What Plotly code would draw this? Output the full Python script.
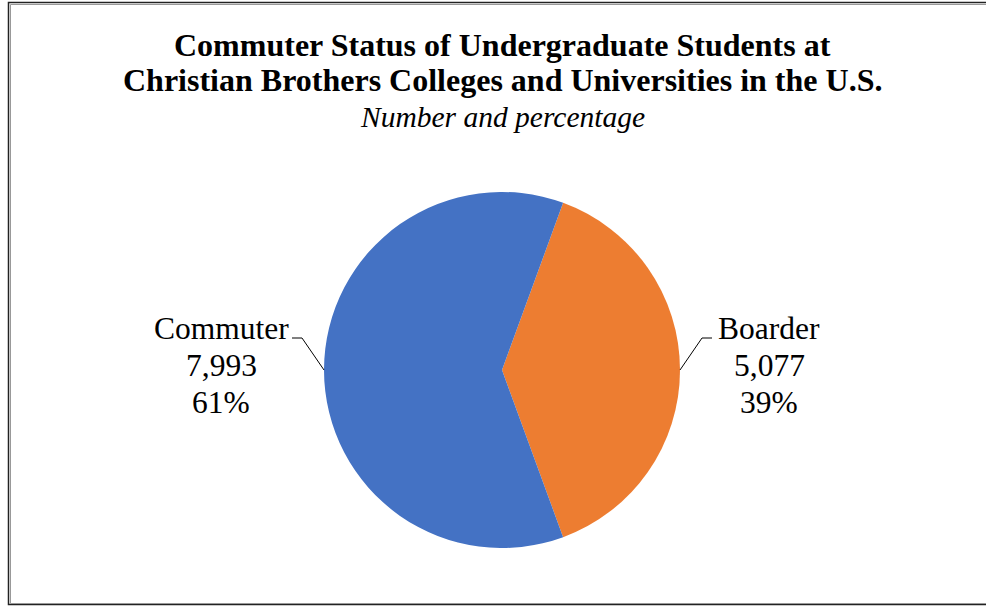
import math
import plotly.graph_objects as go

# ---- data ----
labels = ["Boarder", "Commuter"]
values = [5077, 7993]
colors = ["#ED7D31", "#4472C4"]
title_lines = ["Commuter Status of Undergraduate Students at",
               "Christian Brothers Colleges and Universities in the U.S."]
subtitle = "Number and percentage"

W, H = 986, 606
def px(x):
    return x / W
def py(y):
    return 1 - y / H

# pie geometry (pixels)
cx, cy, R = 502, 370, 178
total = sum(values)
rotation = 90 - 0.5 * values[0] / total * 360  # boarder centred on the right

fig = go.Figure()
fig.add_trace(go.Pie(
    labels=labels, values=values, sort=False, direction="clockwise",
    rotation=rotation, marker=dict(colors=colors, line=dict(width=0)),
    textinfo="none", hoverinfo="label+value+percent", showlegend=False,
    domain=dict(x=[px(cx - R), px(cx + R)], y=[py(cy + R), py(cy - R)]),
))

font = "Liberation Serif, Times New Roman, serif"
annotations = []
for i, line in enumerate(title_lines):
    annotations.append(dict(text="<b>" + line + "</b>", x=px(502), y=py(45 + 35 * i),
                            xref="paper", yref="paper", xanchor="center", yanchor="middle",
                            showarrow=False, font=dict(family=font, size=32, color="black")))
annotations.append(dict(text="<i>" + subtitle + "</i>", x=px(502), y=py(117),
                        xref="paper", yref="paper", xanchor="center", yanchor="middle",
                        showarrow=False, font=dict(family=font, size=29.5, color="black")))
shapes = []

# labels with leader lines, placed from slice mid-angles
text_offset = {"Boarder": 57, "Commuter": 71}
start = rotation
for lab, val in zip(labels, values):
    frac = val / total
    mid = start + frac * 180
    start += frac * 360
    a = math.radians(mid)
    ex, ey = cx + R * math.sin(a), cy - R * math.cos(a)
    side = 1 if math.sin(a) >= 0 else -1
    kx, ky = ex + side * 22, ey - 32
    hx = kx + side * 10
    shapes.append(dict(type="path", xref="paper", yref="paper",
                       path=f"M {px(ex)} {py(ey)} L {px(kx)} {py(ky)} L {px(hx)} {py(ky)}",
                       line=dict(color="black", width=1)))
    tx = hx + side * text_offset[lab]
    lines = [lab, f"{val:,}", f"{round(frac * 100)}%"]
    for j, t in enumerate(lines):
        annotations.append(dict(text=t, x=px(tx), y=py(ky - 10 + 37 * j), xref="paper", yref="paper",
                                xanchor="center", yanchor="middle", showarrow=False,
                                font=dict(family=font, size=31.5, color="black")))

# double frame
shapes.append(dict(type="rect", xref="paper", yref="paper",
                   x0=px(8.5), y0=py(604.5), x1=px(992), y1=py(2.5),
                   line=dict(color="#222222", width=1.5)))
shapes.append(dict(type="rect", xref="paper", yref="paper",
                   x0=px(10.5), y0=py(603.5), x1=px(992), y1=py(4.5),
                   line=dict(color="#999999", width=1)))

fig.update_layout(
    width=W, height=H, margin=dict(l=0, r=0, t=0, b=0),
    paper_bgcolor="white", plot_bgcolor="white",
    annotations=annotations, shapes=shapes,
)
fig.write_html("out.html", config={"displayModeBar": False},
               post_script="document.body.style.margin='0';document.body.style.overflow='hidden';")
